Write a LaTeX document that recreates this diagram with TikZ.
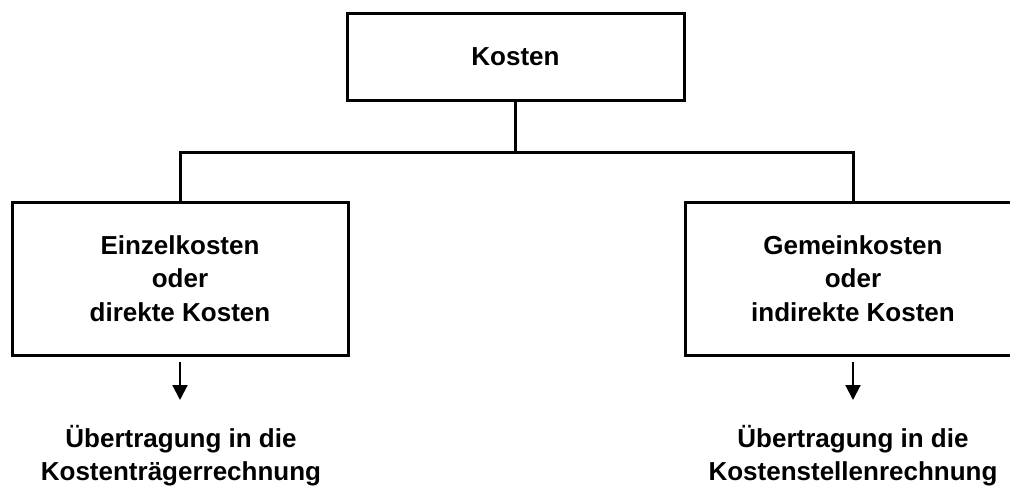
\documentclass[tikz,border=0pt]{standalone}
\usepackage{fontspec}
\setmainfont{Liberation Sans}
\usetikzlibrary{arrows.meta}
\begin{document}
\begin{tikzpicture}[x=1pt,y=-1pt,
  box/.style={draw=black,line width=3pt,fill=white,rectangle,inner sep=0pt,outer sep=0pt,
    align=center,font=\bfseries\fontsize{26}{33.5}\selectfont},
  conn/.style={line width=3pt},
  arr/.style={line width=2pt,-{Triangle[width=15pt,length=15pt]}},
  lbl/.style={align=center,inner sep=0pt,font=\bfseries\fontsize{26}{33}\selectfont}]
\useasboundingbox (0,0) rectangle (1010,488);
\clip (0,0) rectangle (1010,488);
\node[box,minimum width=337pt,minimum height=87pt] (top) at (515.5,56.5) {Kosten};
\node[box,minimum width=336pt,minimum height=153pt] (left) at (180,278.5) {Einzelkosten\\oder\\direkte Kosten};
\node[box,minimum width=336pt,minimum height=153pt] (right) at (853,278.5) {Gemeinkosten\\oder\\indirekte Kosten};
\coordinate (j) at (515.5,152);
\draw[conn] (top.south) -- (j);
\draw[conn] (left.north) |- (j) -| (right.north);
\node[lbl] (lt) at (181,455.5) {Übertragung in die\\Kostenträgerrechnung};
\node[lbl] (rt) at (853,455.5) {Übertragung in die\\Kostenstellenrechnung};
\coordinate (la) at (180,362);
\coordinate (ra) at (853,362);
\coordinate (lb) at (180,400);
\coordinate (rb) at (853,400);
\draw[arr] (la) -- (lb);
\draw[arr] (ra) -- (rb);
\end{tikzpicture}
\end{document}
